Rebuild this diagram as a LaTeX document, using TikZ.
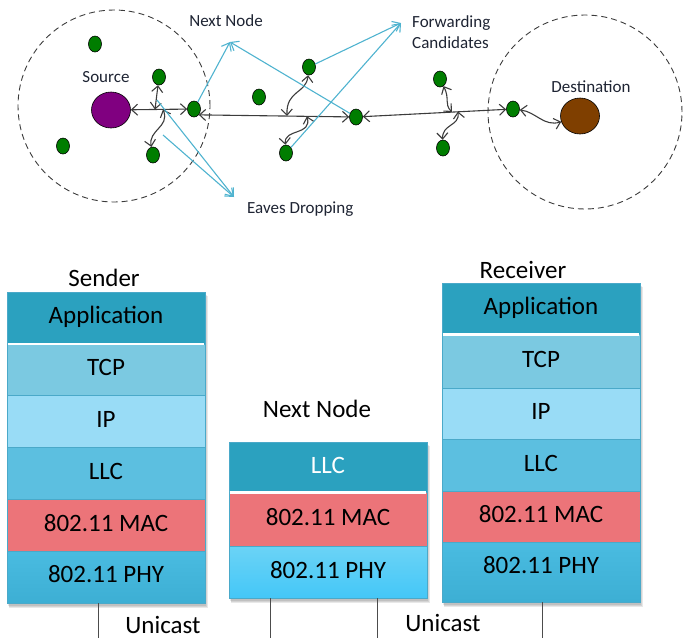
\documentclass[tikz,border=0pt]{standalone}
\usepackage{fontspec}
\setmainfont{Carlito}
\usetikzlibrary{arrows.meta,shapes.geometric}
\definecolor{nodegreen}{HTML}{007D00}
\definecolor{srcpurple}{HTML}{800080}
\definecolor{dstbrown}{HTML}{7F3F00}
\definecolor{arrgray}{HTML}{3C3C3C}
\definecolor{blueln}{HTML}{4FB3CF}
\definecolor{appc}{HTML}{2BA1BF}
\definecolor{tcpc}{HTML}{7BC9E1}
\definecolor{ipc}{HTML}{99DCF6}
\definecolor{llcc}{HTML}{5CBFE0}
\definecolor{macc}{HTML}{EC7479}
\definecolor{phyc}{HTML}{40B8DF}
\definecolor{nphytop}{HTML}{6BD3F6}
\definecolor{nphybot}{HTML}{44C7F7}
\definecolor{bordc}{HTML}{4AA9C9}
\definecolor{txtc}{HTML}{1E2433}
\begin{document}
\begin{tikzpicture}[x=1pt,y=-1pt,
  gnode/.style={ellipse, draw=black, line width=0.6pt, fill=nodegreen, minimum width=13pt, minimum height=16pt, inner sep=0pt},
  bignode/.style={ellipse, draw=black, line width=0.6pt, minimum width=39pt, minimum height=36pt, inner sep=0pt},
  zone/.style={circle, draw=arrgray, line width=0.9pt, dash pattern=on 6pt off 4pt, minimum size=#1, inner sep=0pt},
  barr/.style={draw=arrgray, line width=1.1pt, {Straight Barb[length=6pt,width=11pt]}-{Straight Barb[length=6pt,width=11pt]}},
  blarr/.style={draw=blueln, line width=1.1pt, -{Straight Barb[length=7pt,width=11pt]}},
  toplab/.style={font=\fontsize{17}{21}\selectfont, text=txtc, inner sep=0pt, text height=12pt, text depth=4pt},
  stacklab/.style={font=\fontsize{25}{30}\selectfont, text=black, inner sep=0pt, text height=17pt, text depth=5pt},
  layer/.style={rectangle, draw=bordc, line width=0.6pt, minimum width=198pt, inner sep=0pt, font=\fontsize{25}{30}\selectfont, text=black, text height=17pt, text depth=5pt},
  shad/.style={fill=black, opacity=0.09},
  vln/.style={draw=black!70, line width=1pt},
  sep/.style={draw=white, line width=2.5pt}
]
\useasboundingbox (0,0) rectangle (686,638);

% ---------- top: network ----------
\node[zone=192pt] (zoneS) at (114,106) {};
\node[zone=194pt] (zoneD) at (585,112) {};

\node[bignode, fill=srcpurple] (src) at (111,110) {};
\node[bignode, fill=dstbrown] (dst) at (580,116) {};

\node[gnode] (g1) at (95,44) {};
\node[gnode] (g2) at (63,146) {};
\node[gnode] (g3) at (159,77) {};
\node[gnode] (g4) at (153,155) {};
\node[gnode] (nxt) at (194,109) {};
\node[gnode] (g6) at (259,97) {};
\node[gnode] (g7) at (309,67) {};
\node[gnode] (g8) at (286,153) {};
\node[gnode] (g9) at (356,117) {};
\node[gnode] (g10) at (440,79) {};
\node[gnode] (g11) at (443,148) {};
\node[gnode] (g12) at (513,109) {};

\node[toplab] (lsrc) at (106,78.5) {Source};
\node[toplab] (ldst) at (591,88.5) {Destination};
\node[toplab] (lnext) at (226,22.5) {Next Node};
\node[toplab, anchor=west] (leaves) at (247,209.5) {Eaves Dropping};
\node[font=\fontsize{17}{21}\selectfont, text=txtc, inner sep=0pt, align=left, anchor=west] (lfwd) at (412,32) {Forwarding\\Candidates};

% junction points on the links
\coordinate (j1) at (155,109.5);
\coordinate (j2) at (163,109.5);
\coordinate (j3) at (287,116);
\coordinate (j4) at (307,116.3);
\coordinate (j5) at (452,112);
\coordinate (j6) at (458,111.5);

% black links
\draw[barr] (src) -- (nxt);
\draw[barr] (g3) -- (j1);
\draw[barr] (j2) .. controls (170,127) and (148,130) .. (g4);
\draw[barr] (nxt.south east) -- (g9);
\draw[barr] (g7) .. controls (306,94) and (286,90) .. (j3);
\draw[barr] (j4) .. controls (312,136) and (284,128) .. (g8);
\draw[barr] (g9) -- (g12);
\draw[barr] (g10) .. controls (450,99) and (444,104) .. (j5);
\draw[barr] (j6) .. controls (460,126) and (442,124) .. (g11);
\draw[barr] (g12) .. controls (536,112) and (544,127) .. (dst);

% blue pointers
\coordinate (tipN) at (230,42);
\coordinate (tipF) at (401,23);
\coordinate (tipE) at (234,197);
\coordinate (e1) at (157,100);
\coordinate (e2) at (163,135);
\draw[blarr] (nxt) -- (tipN);
\draw[blarr] (g9) -- (tipN);
\draw[blarr] (g7) -- (tipF);
\draw[blarr] (g8) -- (tipF);
\draw[blarr] (e1) -- (tipE);
\draw[blarr] (e2) -- (tipE);

% ---------- bottom: protocol stacks ----------
% soft shadows
\foreach \d in {1,2,3,4}{
  \fill[shad] (7+\d*0.5,292+\d) rectangle (205+\d*0.7,603+\d*1.3);
  \fill[shad] (229+\d*0.5,442+\d) rectangle (427+\d*0.7,598+\d*1.3);
  \fill[shad] (442+\d*0.5,283+\d) rectangle (640+\d*0.7,602+\d*1.3);
}

% sender
\node[layer, fill=appc, minimum height=51.8pt] (sapp) at (106,317.9) {Application};
\node[layer, fill=tcpc, minimum height=51.8pt] (stcp) at (106,369.7) {TCP};
\node[layer, fill=ipc, minimum height=51.8pt] (sip) at (106,421.5) {IP};
\node[layer, fill=llcc, minimum height=51.8pt] (sllc) at (106,473.3) {LLC};
\node[layer, fill=macc, minimum height=51.8pt] (smac) at (106,525.1) {802.11 MAC};
\node[layer, top color=phyc!95!white, bottom color=phyc!95!black, draw=bordc, minimum height=51.8pt] (sphy) at (106,576.9) {802.11 PHY};
\draw[sep] ([xshift=1pt]sapp.south west) -- ([xshift=-1pt]sapp.south east);

% next node
\node[layer, fill=appc, text=white, minimum height=50pt] (nllc) at (328,467) {LLC};
\node[layer, fill=macc, minimum height=54pt] (nmac) at (328,519) {802.11 MAC};
\node[layer, top color=nphytop, bottom color=nphybot, minimum height=52pt] (nphy) at (328,572) {802.11 PHY};
\draw[sep] ([xshift=1pt]nllc.south west) -- ([xshift=-1pt]nllc.south east);

% receiver
\node[layer, fill=appc, minimum height=51pt] (rapp) at (541,308.5) {Application};
\node[layer, fill=tcpc, minimum height=54pt] (rtcp) at (541,361) {TCP};
\node[layer, fill=ipc, minimum height=51pt] (rip) at (541,413.5) {IP};
\node[layer, fill=llcc, minimum height=52pt] (rllc) at (541,465) {LLC};
\node[layer, fill=macc, minimum height=51pt] (rmac) at (541,516.5) {802.11 MAC};
\node[layer, top color=phyc!95!white, bottom color=phyc!95!black, text depth=15pt, minimum height=60pt] (rphy) at (541,572) {802.11 PHY};
\draw[sep] ([xshift=1pt]rapp.south west) -- ([xshift=-1pt]rapp.south east);

% stack titles
\node[stacklab] (lsender) at (104,280) {Sender};
\node[stacklab] (lnn) at (317,411) {Next Node};
\node[stacklab] (lrecv) at (523,272) {Receiver};

% unicast links
\coordinate (u1) at (98,638);
\coordinate (u2) at (270,638);
\coordinate (u3) at (377,638);
\coordinate (u4) at (542,638);
\draw[vln] (sphy.south -| u1) -- (u1);
\draw[vln] (nphy.south -| u2) -- (u2);
\draw[vln] (nphy.south -| u3) -- (u3);
\draw[vln] (rphy.south -| u4) -- (u4);
\node[stacklab] (uni1) at (163,627) {Unicast};
\node[stacklab] (uni2) at (443,625) {Unicast};
\end{tikzpicture}
\end{document}
